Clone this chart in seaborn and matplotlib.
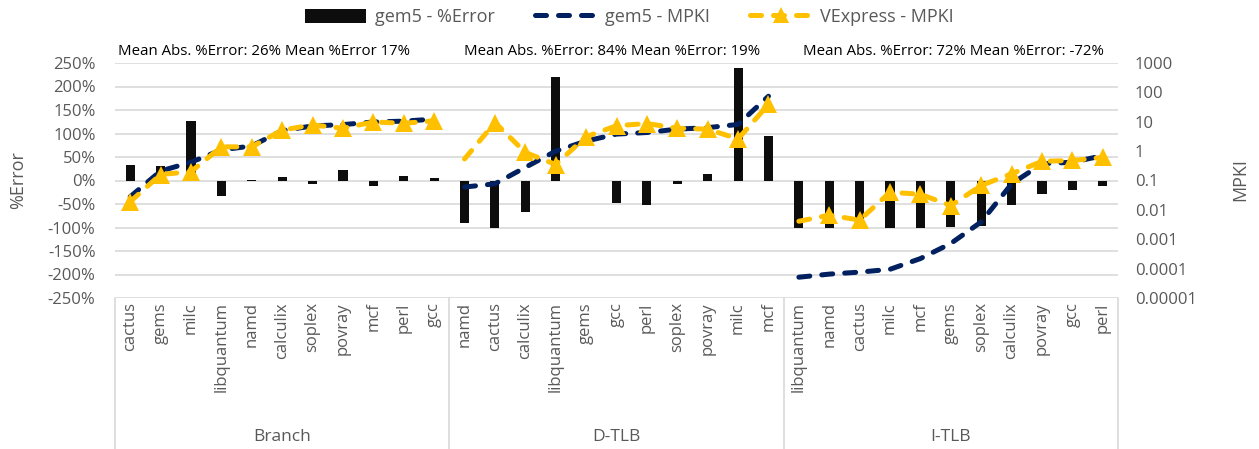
import matplotlib
matplotlib.use("Agg")
import matplotlib.pyplot as plt
import matplotlib.transforms as mtransforms
from matplotlib.lines import Line2D
from matplotlib.patches import Patch
import numpy as np
import pandas as pd
import seaborn as sns

# ---- data -------------------------------------------------------------
groups = ["Branch", "D-TLB", "I-TLB"]

branch_bench = ["cactus", "gems", "milc", "libquantum", "namd", "calculix",
                "soplex", "povray", "mcf", "perl", "gcc"]
dtlb_bench = ["namd", "cactus", "calculix", "libquantum", "gems", "gcc",
              "perl", "soplex", "povray", "milc", "mcf"]
itlb_bench = ["libquantum", "namd", "cactus", "milc", "mcf", "gems",
              "soplex", "calculix", "povray", "gcc", "perl"]

branch_err = [32, 30, 126, -33, 2, 8, -8, 22, -12, 9, 6]
dtlb_err = [-90, -100, -66, 220, -2, -48, -52, -7, 13, 240, 95]
itlb_err = [-100, -100, -100, -100, -100, -98, -97, -53, -28, -20, -11]

branch_gem5_mpki = [0.028, 0.21, 0.42, 1.1, 1.5, 5.0, 7.2, 8.0, 9.8, 10.5, 12.3]
dtlb_gem5_mpki = [0.06, 0.077, 0.28, 1.0, 2.2, 3.8, 4.3, 5.6, 6.3, 8.1, 74]
itlb_gem5_mpki = [5.1e-5, 6.5e-5, 7.6e-5, 9.5e-5, 2.2e-4, 7.2e-4, 0.0039,
                  0.077, 0.37, 0.42, 0.7]

branch_vexp_mpki = [0.019, 0.16, 0.2, 1.4, 1.4, 5.2, 7.8, 6.0, 9.8, 8.9, 10.7]
dtlb_vexp_mpki = [0.54, 9.4, 0.9, 0.35, 3.1, 7.3, 8.7, 6.0, 5.6, 2.6, 39]
itlb_vexp_mpki = [0.0041, 0.0066, 0.0045, 0.04, 0.034, 0.014, 0.068, 0.17,
                  0.45, 0.48, 0.61]

annotations = ["Mean Abs. %Error: 26% Mean %Error 17%",
               "Mean Abs. %Error: 84% Mean %Error: 19%",
               "Mean Abs. %Error: 72% Mean %Error: -72%"]

err_ticks = [-250, -200, -150, -100, -50, 0, 50, 100, 150, 200, 250]
mpki_ticks = [1e-5, 1e-4, 1e-3, 1e-2, 1e-1, 1, 10, 100, 1000]
mpki_labels = ["0.00001", "0.0001", "0.001", "0.01", "0.1", "1", "10", "100", "1000"]

# ---- tidy table --------------------------------------------------------
benches = [branch_bench, dtlb_bench, itlb_bench]
errs = [branch_err, dtlb_err, itlb_err]
gem5 = [branch_gem5_mpki, dtlb_gem5_mpki, itlb_gem5_mpki]
vexp = [branch_vexp_mpki, dtlb_vexp_mpki, itlb_vexp_mpki]

rows = []
pos = 0
for g, b, e, m1, m2 in zip(groups, benches, errs, gem5, vexp):
    for name, ev, a, v in zip(b, e, m1, m2):
        rows.append(dict(pos=pos, group=g, bench=name, err=ev, gem5=a, vexp=v))
        pos += 1
df = pd.DataFrame(rows)

# ---- style -------------------------------------------------------------
sns.set_theme(style="white")
plt.rcParams["font.family"] = ["Open Sans", "DejaVu Sans"]

BLACK = "#0d0d0d"
NAVY = "#002060"
GOLD = "#FFC000"
GRID = "#d9d9d9"
TXT = "#595959"

fig = plt.figure(figsize=(12.59, 4.49), dpi=100)
ax = fig.add_axes([115 / 1259, 1 - 298 / 449, (1118 - 115) / 1259, (298 - 63) / 449])

sns.barplot(data=df, x="pos", y="err", color=BLACK, width=0.3, ax=ax,
            saturation=1, errorbar=None, zorder=3)
for p in ax.patches:
    p.set_edgecolor("none")

ax.set_xlim(-0.5, len(df) - 0.5)
ax.set_ylim(-250, 250)
ax.set_yticks(err_ticks)
ax.set_yticklabels([f"{t}%" for t in err_ticks], color=TXT, fontsize=12)
ax.yaxis.grid(True, color=GRID, lw=1.2, zorder=0)
ax.set_axisbelow(True)
ax.tick_params(axis="y", length=0, pad=14)
ax.set_xticks(range(len(df)))
ax.set_xticklabels(df["bench"], rotation=90, fontsize=12, color=TXT,
                   va="top")
ax.tick_params(axis="x", length=0, pad=3)
ax.set_xlabel("")
ax.set_ylabel("")
for s in ax.spines.values():
    s.set_visible(False)

# ---- MPKI on a log secondary axis --------------------------------------
ax2 = ax.twinx()
ax2.set_yscale("log")
ax2.set_ylim(1e-5, 1e3)
dash = dict(lw=3.6, dash_capstyle="round")
for i, g in enumerate(groups):
    sub = df[df["group"] == g]
    sns.lineplot(data=sub, x="pos", y="gem5", ax=ax2, color=NAVY,
                 linestyle=(0, (2.2, 2.4)), errorbar=None, **dash, zorder=4)
    sns.lineplot(data=sub, x="pos", y="vexp", ax=ax2, color=GOLD,
                 linestyle=(0, (2.2, 2.4)), marker="^", markersize=13,
                 markeredgewidth=0, markeredgecolor=GOLD,
                 markevery=slice(0 if i == 0 else 1, None),
                 errorbar=None, **dash, zorder=5)
ax2.set_yticks(mpki_ticks)
ax2.set_yticklabels(mpki_labels, color=TXT, fontsize=12)
ax2.yaxis.set_minor_locator(matplotlib.ticker.NullLocator())
ax2.tick_params(axis="y", length=0, pad=12)
ax2.set_xlabel("")
ax2.set_ylabel("")
ax2.set_xlim(-0.5, len(df) - 0.5)
for s in ax2.spines.values():
    s.set_visible(False)

# ---- group separators and group names below the axis -------------------
trans = mtransforms.blended_transform_factory(ax.transData, ax.transAxes)
bounds = [-0.5]
for b in benches:
    bounds.append(bounds[-1] + len(b))
for xb in bounds:
    ax.plot([xb, xb], [0, -0.645], transform=trans, color=GRID, lw=1.2,
            clip_on=False)
for k, g in enumerate(groups):
    xc = (bounds[k] + bounds[k + 1]) / 2
    ax.text(xc, -0.59, g, transform=trans, ha="center", va="center",
            fontsize=12.5, color=TXT)

# ---- per-group summary text ---------------------------------------------
ann_x = [4.4, 15.85, 27.1]
for xa, t in zip(ann_x, annotations):
    ax.text(xa, 1.05, t, transform=trans, ha="center", va="center",
            fontsize=10.8, color="black")

# ---- axis titles ---------------------------------------------------------
fig.text(18 / 1259, 1 - 180 / 449, "%Error", rotation=90, ha="center",
         va="center", fontsize=13, color=TXT)
fig.text(1240 / 1259, 1 - 180 / 449, "MPKI", rotation=90, ha="center",
         va="center", fontsize=13, color=TXT)

# ---- legend --------------------------------------------------------------
handles = [
    Patch(facecolor=BLACK, edgecolor="none"),
    Line2D([], [], color=NAVY, lw=3.6, linestyle=(0, (2.2, 2.4)),
           dash_capstyle="round"),
    Line2D([], [], color=GOLD, lw=3.6, linestyle=(0, (2.2, 2.4)),
           dash_capstyle="round", marker="^", markersize=11,
           markeredgewidth=0),
]
labels = ["gem5 - %Error", "gem5 - MPKI", "VExpress - MPKI"]
fig.legend(handles, labels, loc="center", bbox_to_anchor=(0.5, 1 - 17 / 449),
           ncol=3, frameon=False, fontsize=13, handlelength=3.4,
           handleheight=0.8, columnspacing=2.2, handletextpad=0.5,
           labelcolor=TXT)

fig.savefig("out.png", dpi=100)
